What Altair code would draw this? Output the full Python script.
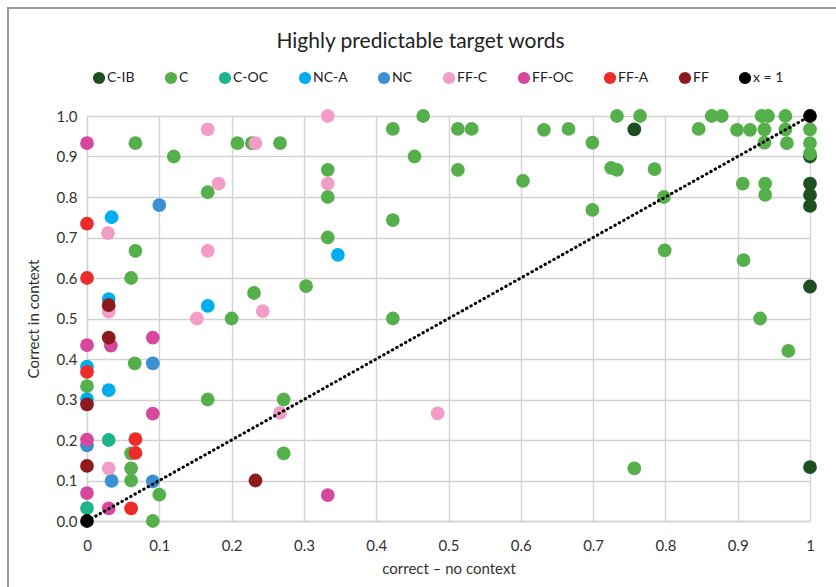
import altair as alt
import pandas as pd

# Series, drawing order and colours
series_names = ["C-IB", "C", "C-OC", "NC-A", "NC", "FF-C", "FF-OC", "FF-A", "FF", "x = 1"]
series_colors = ["#1e4f21", "#55b04b", "#1db48b", "#00adee", "#3b8fd3",
                 "#f29dc7", "#d6489e", "#ee2b2b", "#8d1b1e", "#000000"]

c_ib_x = [0.757, 1.0, 1.0, 1.0, 1.0, 1.0, 1.0]
c_ib_y = [0.967, 0.9, 0.833, 0.805, 0.778, 0.579, 0.133]

c_x = [0.067, 0.12, 0.208, 0.228, 0.267, 0.167, 0.067, 0.061, 0.231, 0.2, 0.303,
       0.066, 0.0, 0.167, 0.272, 0.061, 0.272, 0.061, 0.061, 0.1, 0.091,
       0.423, 0.465, 0.513, 0.532, 0.632, 0.666, 0.453, 0.333, 0.513, 0.333,
       0.603, 0.423, 0.333, 0.423,
       0.699, 0.733, 0.765, 0.846, 0.864, 0.878, 0.899, 0.917, 0.933, 0.942,
       0.966, 0.937, 0.937, 0.966, 0.968, 1.0, 1.0, 1.0, 0.725, 0.733, 0.785,
       0.907, 0.938, 0.938, 0.798, 0.699, 0.799, 0.908, 0.931, 0.97, 0.757]
c_y = [0.933, 0.9, 0.933, 0.933, 0.933, 0.812, 0.667, 0.6, 0.563, 0.5, 0.58,
       0.389, 0.333, 0.3, 0.3, 0.167, 0.167, 0.13, 0.1, 0.065, 0.0,
       0.968, 1.0, 0.968, 0.968, 0.966, 0.968, 0.9, 0.867, 0.867, 0.8,
       0.84, 0.743, 0.7, 0.5,
       0.934, 1.0, 1.0, 0.968, 1.0, 1.0, 0.966, 0.966, 1.0, 1.0,
       1.0, 0.967, 0.934, 0.967, 0.933, 0.967, 0.933, 0.907, 0.872, 0.867, 0.869,
       0.833, 0.833, 0.805, 0.8, 0.768, 0.668, 0.644, 0.5, 0.42, 0.13]

c_oc_x = [0.03, 0.0]
c_oc_y = [0.2, 0.032]

nc_a_x = [0.034, 0.03, 0.167, 0.347, 0.0, 0.03, 0.0]
nc_a_y = [0.75, 0.548, 0.531, 0.657, 0.381, 0.323, 0.301]

nc_x = [0.1, 0.091, 0.0, 0.034, 0.091]
nc_y = [0.78, 0.389, 0.187, 0.099, 0.098]

ff_c_x = [0.167, 0.233, 0.182, 0.029, 0.167, 0.03, 0.152, 0.243, 0.333, 0.333, 0.267, 0.485, 0.03]
ff_c_y = [0.967, 0.933, 0.833, 0.711, 0.667, 0.517, 0.5, 0.518, 1.0, 0.833, 0.267, 0.266, 0.13]

ff_oc_x = [0.0, 0.0, 0.033, 0.091, 0.091, 0.0, 0.0, 0.03, 0.333]
ff_oc_y = [0.933, 0.434, 0.433, 0.453, 0.265, 0.201, 0.069, 0.031, 0.064]

ff_a_x = [0.0, 0.0, 0.0, 0.067, 0.067, 0.061]
ff_a_y = [0.734, 0.6, 0.368, 0.202, 0.168, 0.031]

ff_x = [0.03, 0.03, 0.0, 0.0, 0.233]
ff_y = [0.533, 0.453, 0.288, 0.136, 0.1]

ref_x = [0.0, 1.0]
ref_y = [0.0, 1.0]

x_ticks = [0, 0.1, 0.2, 0.3, 0.4, 0.5, 0.6, 0.7, 0.8, 0.9, 1]
y_ticks = [0, 0.1, 0.2, 0.3, 0.4, 0.5, 0.6, 0.7, 0.8, 0.9, 1]

series_xy = [
    (c_ib_x, c_ib_y), (c_x, c_y), (c_oc_x, c_oc_y), (nc_a_x, nc_a_y), (nc_x, nc_y),
    (ff_c_x, ff_c_y), (ff_oc_x, ff_oc_y), (ff_a_x, ff_a_y), (ff_x, ff_y), (ref_x, ref_y),
]

rows = []
for rank, (name, (xs, ys)) in enumerate(zip(series_names, series_xy)):
    for xv, yv in zip(xs, ys):
        rows.append({"series": name, "rank": rank, "x": xv, "y": yv})
points = pd.DataFrame(rows)
ref_line = pd.DataFrame({"x": ref_x, "y": ref_y})

FONT = "Lato"

x_enc = alt.X("x:Q", scale=alt.Scale(domain=[0, 1], nice=False, zero=False),
              axis=alt.Axis(values=x_ticks, format="~g", title="correct – no context",
                            labelFlush=False, labelPadding=17, titlePadding=8))
y_enc = alt.Y("y:Q", scale=alt.Scale(domain=[0, 1], nice=False, zero=False),
              axis=alt.Axis(values=y_ticks, format=".1f", title="Correct in context",
                            labelFlush=False, labelPadding=10, titlePadding=15))

scatter = alt.Chart(points).mark_circle(size=190, opacity=1).encode(
    x=x_enc,
    y=y_enc,
    color=alt.Color(
        "series:N",
        sort=series_names,
        scale=alt.Scale(domain=series_names, range=series_colors),
        legend=alt.Legend(
            title=None, orient="none", direction="horizontal", columns=10,
            legendX=5, legendY=-45, symbolType="circle", symbolSize=150,
            symbolStrokeWidth=0, symbolOpacity=1, labelFontSize=14, labelFont=FONT,
            labelColor="#222222", labelOffset=1, columnPadding=29, padding=0,
        ),
    ),
    order=alt.Order("rank:Q"),
)

diagonal = alt.Chart(ref_line).mark_line(
    color="black", strokeWidth=3, strokeDash=[0.5, 4.5], strokeCap="round"
).encode(x="x:Q", y="y:Q")

# grey outer frame around the figure
frame = alt.Chart(pd.DataFrame({"k": [0]})).mark_rect(
    filled=False, stroke="#9a9a9a", strokeWidth=2
).encode(x=alt.value(-79), x2=alt.value(770), y=alt.value(-108), y2=alt.value(490))

chart = alt.layer(frame, scatter, diagonal).properties(
    width=723,
    height=405,
    title=alt.TitleParams("Highly predictable target words", fontSize=21, font=FONT,
                          fontWeight="normal", color="#222222", anchor="middle",
                          frame="group", dx=-28, offset=-45),
    autosize=alt.AutoSizeParams(type="none"),
    padding={"left": 87, "top": 116, "right": 26, "bottom": 66},
    background="white",
).configure_view(
    stroke=None
).configure_axis(
    grid=True, gridColor="#d2d2d2", gridWidth=1.3, domainColor="#d2d2d2", domainWidth=1.3,
    ticks=False, labelFont=FONT, labelFontSize=15, labelColor="#333333",
    titleFont=FONT, titleFontSize=15, titleFontWeight="normal", titleColor="#333333",
)

chart.save("out.html", embed_options={"renderer": "svg", "actions": False})
